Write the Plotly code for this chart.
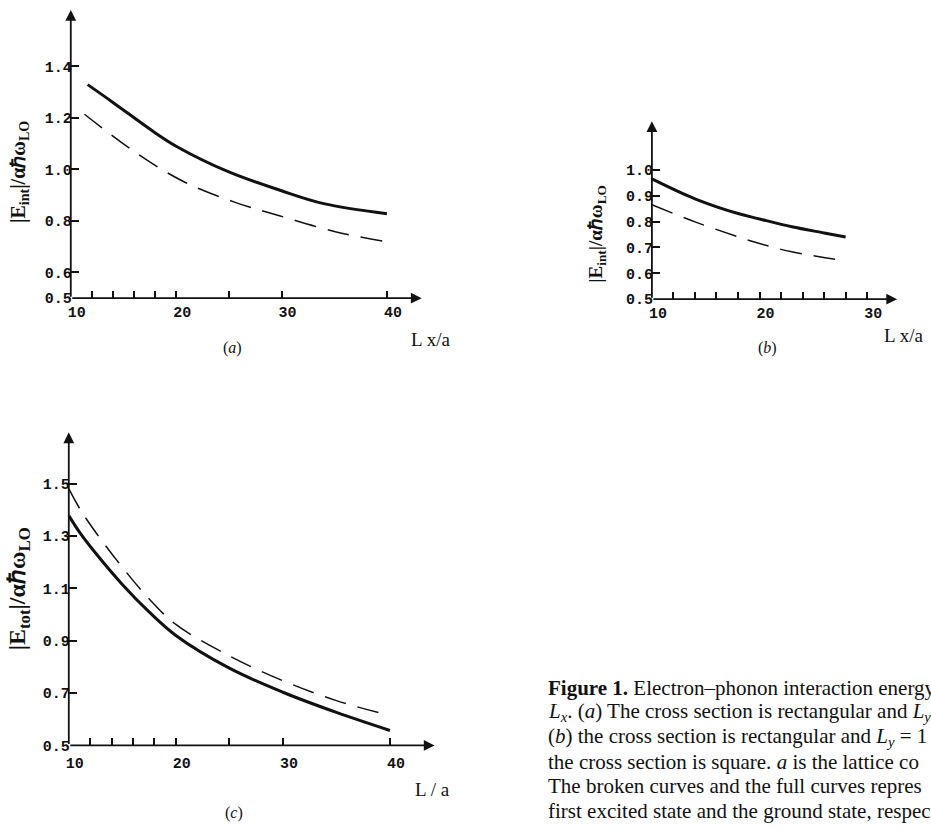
import plotly.graph_objects as go

W, H = 931, 829

# ---------------- data ----------------
a_x_solid = [11.6, 14, 17.8, 20, 25, 30, 34, 40]
a_y_solid = [1.329, 1.260, 1.148, 1.090, 0.990, 0.917, 0.867, 0.828]
a_x_dash = [11.3, 16.1, 20.6, 25.6, 29.8, 35.1, 39.8]
a_y_dash = [1.214, 1.067, 0.955, 0.872, 0.820, 0.758, 0.720]

b_x_solid = [10, 14, 18, 20, 23, 26, 28]
b_y_solid = [0.965, 0.888, 0.831, 0.810, 0.780, 0.756, 0.740]
b_x_dash = [10, 14, 18, 20, 23, 28]
b_y_dash = [0.865, 0.799, 0.741, 0.715, 0.683, 0.648]

c_x_solid = [10, 11, 12.5, 15, 17.5, 20, 25, 30, 35, 40]
c_y_solid = [1.378, 1.315, 1.235, 1.115, 1.010, 0.920, 0.795, 0.703, 0.626, 0.557]
c_x_dash = [10, 11.3, 14.7, 17.5, 20, 25, 30, 35, 40]
c_y_dash = [1.481, 1.386, 1.196, 1.060, 0.962, 0.842, 0.747, 0.671, 0.614]

a_xticks = [10, 12, 14, 16, 18, 20, 25, 30, 40]
a_xlabels = ["10", "", "", "", "", "20", "", "30", "40"]
a_yticks = [0.5, 0.6, 0.8, 1.0, 1.2, 1.4]
a_ylabels = ["0.5", "0.6", "0.8", "1.0", "1.2", "1.4"]

b_xticks = [10, 12, 14, 16, 18, 20, 22, 24, 26, 28, 30]
b_xlabels = ["10", "", "", "", "", "20", "", "", "", "", "30"]
b_yticks = [0.5, 0.6, 0.7, 0.8, 0.9, 1.0]
b_ylabels = ["0.5", "0.6", "0.7", "0.8", "0.9", "1.0"]

c_xticks = [10, 12, 14, 16, 18, 20, 25, 30, 40]
c_xlabels = ["10", "", "", "", "", "20", "", "30", "40"]
c_yticks = [0.5, 0.7, 0.9, 1.1, 1.3, 1.5]
c_ylabels = ["0.5", "0.7", "0.9", "1.1", "1.3", "1.5"]

# caption, as far as it is visible (it runs off the right edge in the original)
caption_lines = [
    "<b>Figure 1.</b> Electron–phonon interaction energy",
    "<i>L<sub>x</sub></i>. (<i>a</i>) The cross section is rectangular and <i>L<sub>y</sub></i>",
    "(<i>b</i>) the cross section is rectangular and <i>L<sub>y</sub></i> = 1",
    "the cross section is square. <i>a</i> is the lattice co",
    "The broken curves and the full curves repres",
    "first excited state and the ground state, respec",
]

# ---------------- layout geometry (pixels) ----------------
panels = {
    "a": dict(x0=68, x1=420, yt=10, yb=300, xr=[10, 43.3], yr=[0.5, 1.619]),
    "b": dict(x0=651, x1=897, yt=122, yb=301, xr=[10, 32.78], yr=[0.5, 1.188]),
    "c": dict(x0=66, x1=433, yt=435, yb=750, xr=[10, 44.17], yr=[0.5, 1.696]),
}
SY = 1.006

def px(x):
    return x / W

def py(y):
    return max(0.0, 1 - (y * SY) / H)

fig = go.Figure()

series = [
    ("a", "x", "y", a_x_solid, a_y_solid, a_x_dash, a_y_dash),
    ("b", "x2", "y2", b_x_solid, b_y_solid, b_x_dash, b_y_dash),
    ("c", "x3", "y3", c_x_solid, c_y_solid, c_x_dash, c_y_dash),
]
for key, xa, ya, xs, ys, xd, yd in series:
    fig.add_trace(go.Scatter(x=xs, y=ys, xaxis=xa, yaxis=ya, mode="lines",
                             line=dict(color="#111", width=3, shape="spline"),
                             showlegend=False, hoverinfo="skip"))
    fig.add_trace(go.Scatter(x=xd, y=yd, xaxis=xa, yaxis=ya, mode="lines",
                             line=dict(color="#111", width=1.5, shape="spline", dash="22px,12px"),
                             showlegend=False, hoverinfo="skip"))

tickfont = dict(family="Liberation Mono", size=15, color="#111", weight="bold")

def xaxis(key, tv, tt, anchor, standoff=3):
    p = panels[key]
    return dict(domain=[px(p["x0"]), px(p["x1"])], range=p["xr"], anchor=anchor,
                tickmode="array", tickvals=tv, ticktext=tt, ticks="inside", ticklen=7,
                tickwidth=1.6, tickcolor="#111", showgrid=False, zeroline=False,
                showline=False, tickfont=tickfont, ticklabelshift=6,
                ticklabelstandoff=standoff)

def yaxis(key, tv, tt, anchor):
    p = panels[key]
    return dict(domain=[py(p["yb"]), py(p["yt"])], range=p["yr"], anchor=anchor,
                tickmode="array", tickvals=tv, ticktext=tt, ticks="inside", ticklen=8,
                tickwidth=1.6, tickcolor="#111", showgrid=False, zeroline=False,
                showline=False, tickfont=tickfont, ticklabelstandoff=-2)

annotations = []
for key, xr_, yr_ in [("a", "x", "y"), ("b", "x2", "y2"), ("c", "x3", "y3")]:
    p = panels[key]
    annotations.append(dict(x=p["xr"][1], y=p["yr"][0], ax=p["xr"][0], ay=p["yr"][0],
                            xref=xr_, yref=yr_, axref=xr_, ayref=yr_, text="",
                            showarrow=True, arrowhead=2, arrowsize=1.2, arrowwidth=1.8,
                            arrowcolor="#111", standoff=0, startstandoff=0))
    annotations.append(dict(x=p["xr"][0], y=p["yr"][1], ax=p["xr"][0], ay=p["yr"][0],
                            xref=xr_, yref=yr_, axref=xr_, ayref=yr_, text="",
                            showarrow=True, arrowhead=2, arrowsize=1.2, arrowwidth=1.8,
                            arrowcolor="#111", standoff=0, startstandoff=0))

def ptext(x, y, text, size=16, xanchor="center", yanchor="middle", angle=0,
          fam="Liberation Serif", weight="normal"):
    annotations.append(dict(x=px(x), y=py(y), xref="paper", yref="paper", text=text,
                            showarrow=False, xanchor=xanchor, yanchor=yanchor,
                            textangle=angle,
                            font=dict(family=fam, size=size, color="#111", weight=weight)))

# y titles
ptext(17, 173, "|E<sub>int</sub>|/αℏω<sub>LO</sub>", size=20, angle=-90, weight="bold")
ptext(595, 235, "|E<sub>int</sub>|/αℏω<sub>LO</sub>", size=19, angle=-90, weight="bold")
ptext(16, 592, "|E<sub>tot</sub>|/αℏω<sub>LO</sub>", size=24, angle=-90, weight="bold")

# x titles
ptext(407, 342, "L x/a", size=19, xanchor="left")
ptext(882, 338, "L x/a", size=19, xanchor="left")
ptext(411, 794, "L / a", size=19, xanchor="left")

# panel labels
ptext(230, 350, "(<i>a</i>)", size=16)
ptext(767, 350, "(<i>b</i>)", size=16)
ptext(232, 818, "(<i>c</i>)", size=16)

# caption
for i, line in enumerate(caption_lines):
    ptext(545, 692 + i * 24.8, line, size=21, xanchor="left")

fig.update_layout(
    width=W, height=H, margin=dict(l=0, r=0, t=0, b=0),
    paper_bgcolor="white", plot_bgcolor="rgba(0,0,0,0)",
    xaxis=xaxis("a", a_xticks, a_xlabels, "y"),
    yaxis=yaxis("a", a_yticks, a_ylabels, "x"),
    xaxis2=xaxis("b", b_xticks, b_xlabels, "y2"),
    yaxis2=yaxis("b", b_yticks, b_ylabels, "x2"),
    xaxis3=xaxis("c", c_xticks, c_xlabels, "y3", standoff=7),
    yaxis3=yaxis("c", c_yticks, c_ylabels, "x3"),
    annotations=annotations,
    showlegend=False,
)

post = (
    "var s=document.createElement('style');"
    "s.textContent='html,body{margin:0!important;padding:0!important;overflow:hidden!important;}';"
    "document.head.appendChild(s);"
)
fig.write_html("out.html", config={"displayModeBar": False}, post_script=post)
